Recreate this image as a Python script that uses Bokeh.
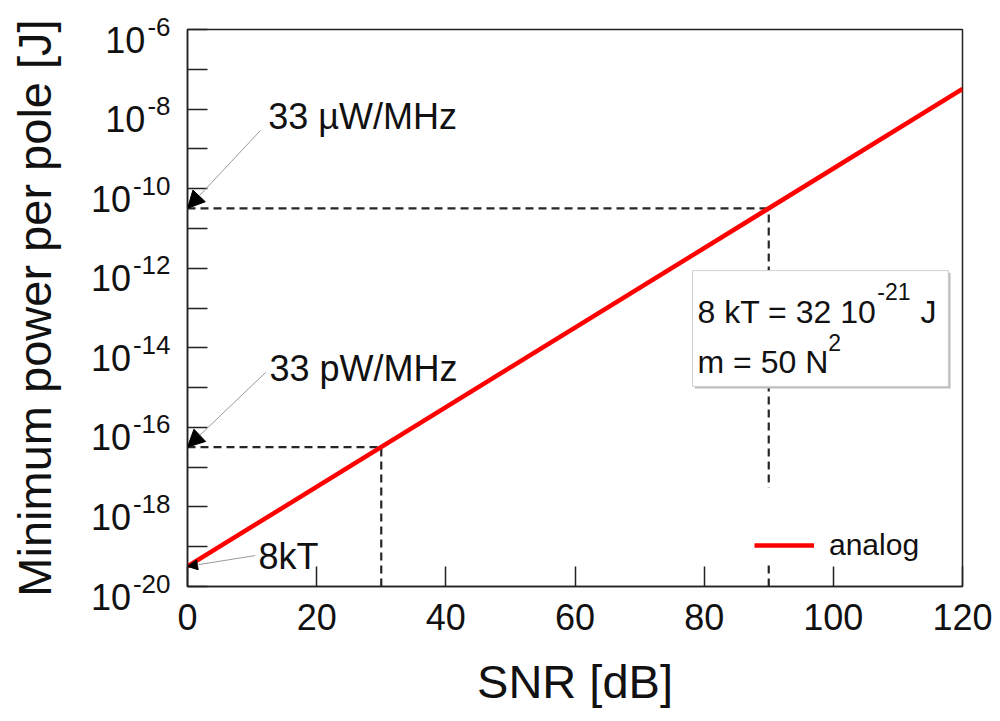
from bokeh.plotting import figure
from bokeh.models import (FixedTicker, CustomJSTickFormatter, Arrow, NormalHead,
                          Legend, LegendItem, ColumnDataSource)
from bokeh.core.properties import value
from bokeh.embed import file_html
from bokeh.resources import INLINE

# ---- data -------------------------------------------------------------
snr_db = [0, 120]                      # SNR [dB]
power_j = [3.2e-20, 3.2e-8]            # minimum power per pole [J]
ref_snr = [30, 90]                     # reference SNR levels [dB]
ref_power = [3.2e-17, 3.2e-11]         # power per pole at those levels [J]
x_ticks = [0, 20, 40, 60, 80, 100, 120]
y_tick_exponents = list(range(-20, -5))          # a tick every decade
y_label_exponents = list(range(-20, -5, 2))      # a label every second decade

FONT = "Liberation Sans"
INK = "#111111"

# advance widths of Liberation Sans (per 1000 em), used to chain text pieces
ADV = {**{d: 556 for d in "0123456789"}, "-": 333, " ": 278, "k": 500, "T": 611,
       "=": 584, "m": 833, "N": 722, "J": 500}


def adv(text, size):
    return sum(ADV.get(c, 556) for c in text) * size / 1000.0


p = figure(width=1000, height=721, x_range=(0, 120), y_range=(1e-20, 1e-6),
           y_axis_type="log", output_backend="svg", toolbar_location=None,
           min_border_left=187, min_border_right=38, min_border_top=29,
           min_border_bottom=135)
p.grid.visible = False
p.outline_line_color = "#222222"
p.outline_line_width = 1.5
p.background_fill_color = "white"
p.border_fill_color = "white"

# ---- axes -------------------------------------------------------------
xa = p.xaxis[0]
xa.ticker = FixedTicker(ticks=x_ticks, minor_ticks=[])
xa.major_tick_in = 20
xa.major_tick_out = 0
xa.minor_tick_in = 0
xa.minor_tick_out = 0
xa.axis_line_color = "#222222"
xa.axis_line_width = 1.5
xa.major_tick_line_color = "#222222"
xa.major_tick_line_width = 1.5
xa.major_label_text_font = FONT
xa.major_label_text_font_size = "36px"
xa.major_label_text_color = INK
xa.major_label_standoff = 17
xa.axis_label = "SNR [dB]"
xa.axis_label_text_font = FONT
xa.axis_label_text_font_size = "47px"
xa.axis_label_text_font_style = "normal"
xa.axis_label_text_color = INK
xa.axis_label_standoff = 22

ya = p.yaxis[0]
ya.ticker = FixedTicker(ticks=[10.0 ** e for e in y_tick_exponents], minor_ticks=[])
ya.formatter = CustomJSTickFormatter(code="return ''")
ya.major_tick_in = 20
ya.major_tick_out = 0
ya.minor_tick_in = 0
ya.minor_tick_out = 0
ya.axis_line_color = "#222222"
ya.axis_line_width = 1.5
ya.major_tick_line_color = "#222222"
ya.major_tick_line_width = 1.5
ya.major_label_standoff = 0
ya.axis_label = "Minimum power per pole [J]"
ya.axis_label_text_font = FONT
ya.axis_label_text_font_size = "47px"
ya.axis_label_text_font_style = "normal"
ya.axis_label_text_color = INK
ya.axis_label_standoff = 127

# y tick labels drawn as "10" with a raised exponent, outside the frame
BASE_SIZE, EXP_SIZE = 36, 26
exp_text = [str(e) for e in y_label_exponents]
tick_src = ColumnDataSource(dict(
    x=[0] * len(y_label_exponents),
    y=[10.0 ** e for e in y_label_exponents],
    base=["10"] * len(y_label_exponents),
    exp=exp_text,
    base_dx=[-(17 + adv(t, EXP_SIZE) + 2) for t in exp_text],
))
p.text(x="x", y="y", text="base", source=tick_src, x_offset="base_dx", y_offset=10,
       text_align="right", text_baseline="alphabetic", text_font=value(FONT),
       text_font_size=f"{BASE_SIZE}px", text_color=INK, level="overlay")
p.text(x="x", y="y", text="exp", source=tick_src, x_offset=-17, y_offset=-3,
       text_align="right", text_baseline="alphabetic", text_font=value(FONT),
       text_font_size=f"{EXP_SIZE}px", text_color=INK, level="overlay")

# ---- reference lines ----------------------------------------------------
DASH = dict(line_color="#262626", line_width=2.2, line_dash="8 5")
for s, pw in zip(ref_snr, ref_power):
    p.line([0, s], [pw, pw], **DASH)
    p.line([s, s], [1e-20, pw], **DASH)

# ---- parameter box ----------------------------------------------------
box_l, box_r, box_t, box_b = 78.2, 117.8, 8.7e-13, 1.07e-15
p.quad(left=box_l + 0.35, right=box_r + 0.35, top=box_t * 0.89, bottom=box_b * 0.89,
       fill_color="#bdbdbd", line_color=None)
p.quad(left=box_l, right=box_r, top=box_t, bottom=box_b,
       fill_color="white", line_color="#cfcfcf", line_width=1)

MAIN, SUP = 32, 23
line1 = "8 kT = 32 10"
line2 = "m = 50 N"
box_txt = dict(text_baseline="alphabetic", text_align="left", text_font=value(FONT),
               text_color=INK)
x0 = 5
p.text(x=[box_l], y=[box_t], text=[line1], x_offset=x0, y_offset=41,
       text_font_size=f"{MAIN}px", **box_txt)
p.text(x=[box_l], y=[box_t], text=["-21"], x_offset=x0 + adv(line1, MAIN) + 1, y_offset=21,
       text_font_size=f"{SUP}px", **box_txt)
p.text(x=[box_l], y=[box_t], text=["J"],
       x_offset=x0 + adv(line1, MAIN) + 2 + adv("-21", SUP) + adv(" ", MAIN), y_offset=41,
       text_font_size=f"{MAIN}px", **box_txt)
p.text(x=[box_l], y=[box_t], text=[line2], x_offset=x0, y_offset=91,
       text_font_size=f"{MAIN}px", **box_txt)
p.text(x=[box_l], y=[box_t], text=["2"], x_offset=x0 + adv(line2, MAIN), y_offset=72,
       text_font_size=f"{SUP}px", **box_txt)

# legend panel background (hides the dashed line behind it)
p.quad(left=[85.6], right=[119.5], top=[3.1e-18], bottom=[4.0e-20],
       fill_color="white", line_color=None)

# ---- main curve -------------------------------------------------------
curve = p.line(snr_db, power_j, line_color="#ff0000", line_width=4.5)

legend = Legend(items=[LegendItem(label="analog", renderers=[curve])],
                location=(567, 24), padding=0, margin=0, spacing=0,
                glyph_width=60, glyph_height=20, label_standoff=15,
                label_text_font=FONT, label_text_font_size="30px",
                label_text_color=INK, background_fill_alpha=0,
                border_line_alpha=0)
p.add_layout(legend, "center")

# ---- annotations --------------------------------------------------------
ann_txt = dict(text_baseline="alphabetic", text_align="left", text_font=value(FONT),
               text_font_size="36px", text_color=INK)
p.text(x=[12.5], y=[6.4e-9], text=["33 µW/MHz"], **ann_txt)
p.text(x=[12.7], y=[3.0e-15], text=["33 pW/MHz"], **ann_txt)
p.text(x=[11.0], y=[5.6e-20], text=["8kT"], **ann_txt)

arrows = [
    (11.3, 2.9e-9, 0, ref_power[1], 17),
    (12.1, 2.4e-15, 0, ref_power[0], 17),
    (10.5, 6.0e-20, 0, power_j[0], 10),
]
for xs, ys, xe, ye, hs in arrows:
    p.add_layout(Arrow(end=NormalHead(size=hs, fill_color="black", line_color="black",
                                      line_width=1),
                       x_start=xs, y_start=ys, x_end=xe, y_end=ye,
                       line_color="#9a9a9a", line_width=1))

open("out.html", "w").write(file_html(p, INLINE))
